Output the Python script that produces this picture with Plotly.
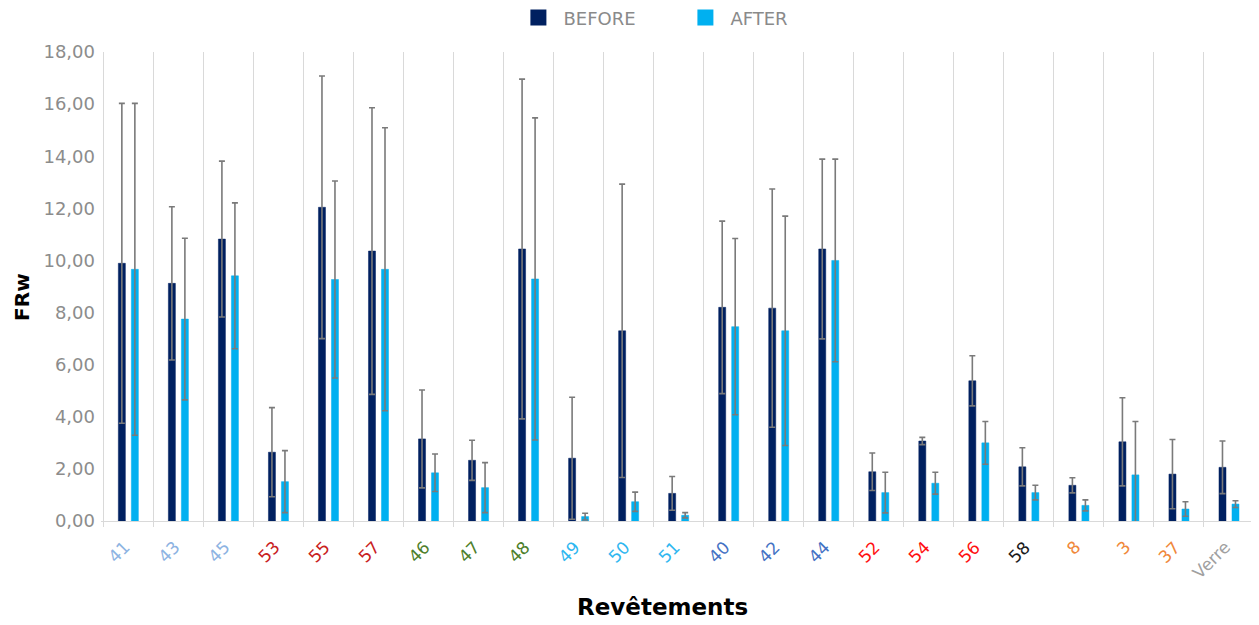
import plotly.graph_objects as go

categories = ["41", "43", "45", "53", "55", "57", "46", "47", "48", "49", "50", "51",
              "40", "42", "44", "52", "54", "56", "58", "8", "3", "37", "Verre"]
label_colors = ["#8db3e2", "#8db3e2", "#8db3e2", "#c9211e", "#c9211e", "#c9211e",
                "#4e7f2b", "#4e7f2b", "#4e7f2b", "#2fb7f0", "#2fb7f0", "#2fb7f0",
                "#4472c4", "#4472c4", "#4472c4", "#ff1010", "#ff1010", "#ff1010",
                "#1a1a1a", "#f0883a", "#f0883a", "#f0883a", "#a0a0a0"]

before = [9.89, 9.12, 10.82, 2.64, 12.04, 10.36, 3.15, 2.33, 10.44, 2.41, 7.30, 1.06,
          8.20, 8.17, 10.44, 1.89, 3.07, 5.38, 2.08, 1.37, 3.04, 1.80, 2.06]
before_err = [6.14, 2.94, 2.99, 1.71, 5.04, 5.50, 1.88, 0.77, 6.52, 2.34, 5.63, 0.65,
              3.31, 4.57, 3.45, 0.72, 0.14, 0.96, 0.73, 0.29, 1.69, 1.33, 1.01]
after = [9.66, 7.75, 9.41, 1.51, 9.27, 9.66, 1.85, 1.28, 9.29, 0.17, 0.74, 0.22,
         7.46, 7.30, 10.00, 1.09, 1.45, 3.00, 1.09, 0.60, 1.77, 0.46, 0.65]
after_err = [6.37, 3.10, 2.80, 1.19, 3.78, 5.43, 0.72, 0.96, 6.18, 0.13, 0.37, 0.10,
             3.38, 4.40, 3.89, 0.78, 0.42, 0.82, 0.28, 0.21, 2.05, 0.28, 0.13]

series_names = ["BEFORE", "AFTER"]
series_colors = ["#002060", "#00b0f0"]

FONT = "DejaVu Sans"
err_style = dict(type="data", visible=True, color="#7a7a7a", thickness=1.6, width=3)

fig = go.Figure()
for name, vals, errs, col in zip(series_names, [before, after], [before_err, after_err], series_colors):
    fig.add_trace(go.Bar(
        name=name, x=categories, y=vals, marker_color=col,
        marker_line=dict(color=col, width=0.5),
        error_y=dict(array=errs, **err_style),
        showlegend=False,
    ))
# legend entries with large square swatches
for name, col in zip(series_names, series_colors):
    fig.add_trace(go.Scatter(
        name=name, x=[None], y=[None], mode="markers",
        marker=dict(symbol="square", size=20, color=col),
        showlegend=True,
    ))

# rotated, individually coloured category labels (x = category index on the category axis)
annotations = [
    dict(text=cat, x=i, xref="x", y=0, yref="paper",
         xanchor="right", yanchor="top", xshift=8, yshift=-13,
         textangle=-45, showarrow=False,
         font=dict(size=17, color=col, family=FONT))
    for i, (cat, col) in enumerate(zip(categories, label_colors))
]
annotations.append(dict(text="<b>Revêtements</b>", xref="paper", yref="paper",
                        x=0.4866, y=-0.183, xanchor="center", yanchor="middle",
                        showarrow=False, font=dict(size=23, color="black", family=FONT)))
annotations.append(dict(text="<b>FRw</b>", xref="paper", yref="paper",
                        x=-0.068, y=0.477, xanchor="center", yanchor="middle",
                        textangle=-90, showarrow=False,
                        font=dict(size=20, color="black", family=FONT)))

# The page body adds an 8px offset; the figure is sized to fit the window.
W, H = 1251, 617
fig.update_layout(
    width=W, height=H,
    margin=dict(l=93, r=5, t=44, b=104, autoexpand=False),
    paper_bgcolor="white", plot_bgcolor="white",
    barmode="group", bargap=0.48, bargroupgap=0.46,
    separators=", ",
    font=dict(family=FONT, color="#7f7f7f"),
    legend=dict(orientation="h", xref="container", x=0.404, xanchor="left",
                yref="container", y=0.984, yanchor="middle",
                font=dict(size=18, color="#8a8a8a", family=FONT),
                traceorder="normal", itemwidth=40, entrywidth=112),
    showlegend=True,
    annotations=annotations,
)

fig.update_xaxes(
    type="category", categoryorder="array", categoryarray=categories,
    tickson="boundaries", showticklabels=False,
    showgrid=True, gridcolor="#d9d9d9", gridwidth=1.2,
    showline=True, linecolor="#d9d9d9", linewidth=1.2,
    ticks="outside", ticklen=5, tickcolor="#d9d9d9",
    automargin=False,
)
fig.update_yaxes(
    range=[0, 18], dtick=2, tickformat=".2f",
    showgrid=False, zeroline=False, showline=False,
    tickfont=dict(size=18, color="#8c8c8c", family=FONT),
    ticklabelstandoff=5,
    automargin=False,
)

fig.write_html("out.html")
